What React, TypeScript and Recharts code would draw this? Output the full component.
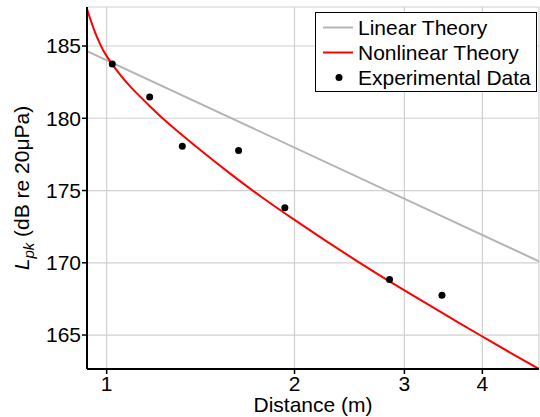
import React from "react";
import {
  ComposedChart,
  Line,
  Scatter,
  XAxis,
  YAxis,
  CartesianGrid,
  Legend,
} from "recharts";

// distance (m) and peak level (dB re 20 µPa)
const linearDistance = [0.93, 4.93];
const linearLevel = [184.65, 170.1];

const nonlinearDistance = [0.93, 0.955, 0.977, 1.0, 1.047, 1.096, 1.175, 1.259, 1.413, 1.585, 1.778, 1.995, 2.239, 2.512, 2.818, 3.162, 3.548, 3.981, 4.467, 4.93];
const nonlinearLevel = [187.55, 186.1, 185.1, 184.3, 183.1, 182.1, 180.8, 179.6, 177.8, 176.1, 174.5, 173.0, 171.55, 170.15, 168.8, 167.5, 166.22, 164.95, 163.7, 162.65];

const expDistance = [1.021, 1.172, 1.322, 1.627, 1.93, 2.84, 3.446];
const expLevel = [183.76, 181.47, 178.06, 177.77, 173.8, 168.85, 167.76];

const xTicks = [1, 2, 3, 4];
const yTicks = [165, 170, 175, 180, 185];
const xDomain = [0.93, 4.93];
const yDomain = [162.65, 187.7];

const FONT = "'Liberation Sans', Arial, Helvetica, sans-serif";
const GRAY = "#b4b4b4";
const RED = "#ff0000";

const toPoints = (xs: number[], ys: number[]) => xs.map((x, i) => ({ x, y: ys[i] }));

const linearData = toPoints(linearDistance, linearLevel);
const nonlinearData = toPoints(nonlinearDistance, nonlinearLevel);
const expData = toPoints(expDistance, expLevel);

const legendItems = [
  { name: "Linear Theory", kind: "line", color: GRAY },
  { name: "Nonlinear Theory", kind: "line", color: RED },
  { name: "Experimental Data", kind: "dot", color: "#000" },
];

const renderLegend = () => (
  <div
    style={{
      width: 220,
      height: 76,
      border: "1px solid #000",
      background: "#fff",
      fontFamily: FONT,
      fontSize: 21,
      color: "#000",
      paddingTop: 2,
      boxSizing: "content-box",
    }}
  >
    {legendItems.map((item) => (
      <div key={item.name} style={{ display: "flex", alignItems: "center", height: 25, lineHeight: "25px" }}>
        <svg width={42} height={25}>
          {item.kind === "line" ? (
            <line x1={7} x2={37} y1={12.5} y2={12.5} stroke={item.color} strokeWidth={2} />
          ) : (
            <circle cx={23} cy={12.5} r={3.5} fill="#000" />
          )}
        </svg>
        <span style={{ whiteSpace: "nowrap" }}>{item.name}</span>
      </div>
    ))}
  </div>
);

const YLabel = () => (
  <text
    x={29}
    y={188}
    transform="rotate(-90, 29, 188)"
    textAnchor="middle"
    fill="#000"
    fontFamily={FONT}
    fontSize={21}
  >
    <tspan fontStyle="italic">L</tspan>
    <tspan fontStyle="italic" fontSize={15} dy={5}>pk</tspan>
    <tspan dy={-5}> (dB re 20μPa)</tspan>
  </text>
);

const XLabel = () => (
  <text x={313} y={412} textAnchor="middle" fill="#000" fontFamily={FONT} fontSize={21}>
    Distance (m)
  </text>
);

const tickStyle = { fill: "#000", fontSize: 21, fontFamily: FONT };
const axisLine = { stroke: "#000", strokeWidth: 2 };
const tickLine = { stroke: "#000", strokeWidth: 1.5 };

export default function App() {
  return (
    <div style={{ position: "absolute", left: 0, top: 0, background: "#fff" }}>
      <ComposedChart width={540} height={417} margin={{ top: 7, right: 1, bottom: 0, left: 0 }}>
        <CartesianGrid stroke="#d0d0d0" strokeWidth={1.2} />
        <XAxis
          dataKey="x"
          type="number"
          scale="log"
          domain={xDomain}
          allowDataOverflow
          ticks={xTicks}
          height={48}
          tickSize={5}
          tickMargin={2}
          tick={tickStyle}
          axisLine={axisLine}
          tickLine={tickLine}
          label={<XLabel />}
        />
        <XAxis
          xAxisId="top"
          orientation="top"
          dataKey="x"
          type="number"
          scale="log"
          domain={xDomain}
          allowDataOverflow
          ticks={xTicks}
          height={0}
          mirror
          tickSize={5}
          tick={false}
          axisLine={axisLine}
          tickLine={tickLine}
        />
        <YAxis
          dataKey="y"
          type="number"
          domain={yDomain}
          allowDataOverflow
          ticks={yTicks}
          width={87}
          tickSize={5}
          tickMargin={1}
          tick={tickStyle}
          axisLine={axisLine}
          tickLine={tickLine}
          label={<YLabel />}
        />
        <YAxis
          yAxisId="right"
          orientation="right"
          type="number"
          domain={yDomain}
          allowDataOverflow
          ticks={yTicks}
          width={0}
          mirror
          tickSize={5}
          tick={false}
          axisLine={axisLine}
          tickLine={tickLine}
        />
        <Line
          data={linearData}
          dataKey="y"
          name="Linear Theory"
          type="linear"
          stroke={GRAY}
          strokeWidth={2}
          dot={false}
          isAnimationActive={false}
        />
        <Line
          data={nonlinearData}
          dataKey="y"
          name="Nonlinear Theory"
          type="natural"
          stroke={RED}
          strokeWidth={2}
          dot={false}
          isAnimationActive={false}
        />
        <Scatter
          data={expData}
          dataKey="y"
          name="Experimental Data"
          fill="#000"
          shape={(p: any) => <circle cx={p.cx} cy={p.cy} r={3.5} fill="#000" />}
          isAnimationActive={false}
        />
        <Legend
          layout="horizontal"
          verticalAlign="middle"
          align="center"
          content={renderLegend}
          wrapperStyle={{ position: "absolute", left: 315, top: 12, width: 222, height: 78 }}
        />
      </ComposedChart>
    </div>
  );
}
